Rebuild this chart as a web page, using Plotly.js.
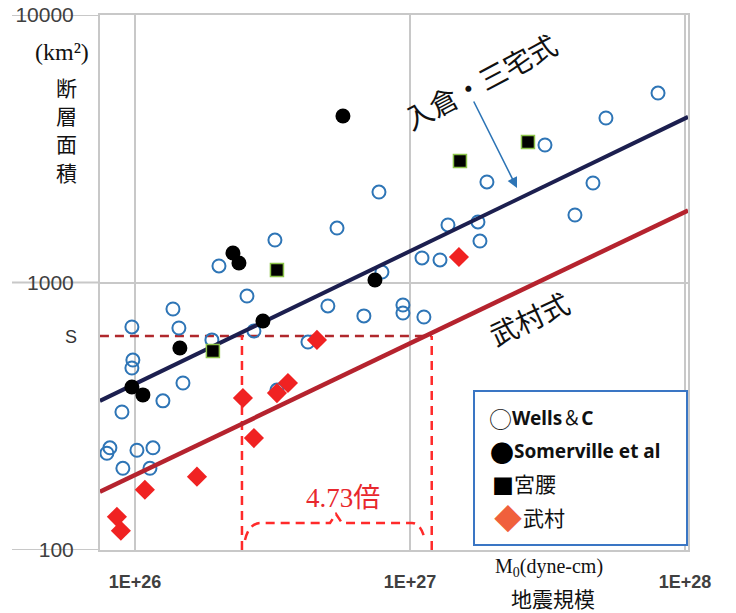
<!DOCTYPE html>
<html>
<head>
<meta charset="utf-8">
<script src="https://cdn.plot.ly/plotly-3.0.1.min.js"></script>
<style>html,body{margin:0;padding:0;background:#fff;}#chart{width:736px;height:613px;}</style>
</head>
<body>
<div id="chart"></div>
<script>
// ---- data (M0 in dyne-cm, S in km^2) ----
const wellsM0 = [7.91e25, 8.11e25, 8.97e25, 9.04e25, 9.75e25, 9.83e25, 9.75e25, 1.017e26, 1.134e26, 1.163e26,
  1.264e26, 1.375e26, 1.445e26, 1.495e26, 1.905e26, 2.021e26, 2.555e26, 2.708e26, 3.229e26, 3.284e26,
  4.257e26, 5.03e26, 5.43e26, 6.80e26, 7.715e26, 7.91e26, 9.43e26, 9.43e26, 1.106e27, 1.286e27,
  1.124e27, 1.375e27, 1.767e27, 1.797e27, 1.905e27, 3.097e27, 3.981e27, 4.629e27, 5.16e27, 7.98e27];
const wellsS = [230, 241, 328, 202, 682, 513, 479, 236, 202, 241,
  361, 796, 676, 421, 610, 1153, 890, 659, 1441, 396,
  599, 817, 1598, 750, 2179, 1094, 824, 769, 1235, 1214,
  743, 1641, 1684, 1429, 2376, 3266, 1788, 2355, 4121, 5109];

const somervilleM0 = [5.706e26, 2.272e26, 2.389e26, 7.46e26, 2.92e26, 1.457e26, 9.75e25, 1.069e26];
const somervilleS = [4193, 1289, 1183, 1022, 718, 569, 407, 380];

const miyakoshiM0 = [1.921e26, 3.284e26, 1.52e27, 2.686e27];
const miyakoshiS = [555, 1113, 2846, 3352];

const takemuraM0 = [1.507e27, 4.59e26, 3.601e26, 3.284e26, 2.47e26, 2.708e26, 1.681e26, 1.087e26, 8.60e25, 8.89e25];
const takemuraS = [1245, 610, 421, 386, 370, 262, 188, 168, 133, 118];

// fitted relations (end points)
const lineM0 = [7.46e25, 1.026e28];
const irikuraS = [361, 4159];
const takemuraLineS = [165, 1860];

// guide: area S and the two moments giving S
const sValue = 631;
const guideM0 = [2.45e26, 1.2e27];
const ratioLabel = '4.73倍';

const xTickVals = [1e26, 1e27, 1e28];
const xTickText = ['1E+26', '1E+27', '1E+28'];
const yTickVals = [100, 1000, 10000];
const yTickText = ['100', '1000', '10000'];
const yTitleChars = ['断', '層', '面', '積'];

const legendRows = [
  {sym: '○', symColor: '#222', label: '<b>Wells</b>＆<b>C</b>'},
  {sym: '●', symColor: '#000', label: '<b>Somerville et al</b>'},
  {sym: '■', symColor: '#000', label: '<span style="font-size:21px">宮腰</span>'},
  {sym: '◆', symColor: '#f0603c', label: '<span style="font-size:21px">武村</span>'}
];

// ---- traces ----
const guideRed = '#ff2a2a';
const traces = [
  {x: [lineM0[0], guideM0[1]], y: [sValue, sValue], mode: 'lines',
   line: {color: '#b0282c', width: 2.5, dash: '9px,6px'}, hoverinfo: 'skip'},
  {x: [guideM0[0], guideM0[0]], y: [yTickVals[0], sValue], mode: 'lines',
   line: {color: guideRed, width: 2.5, dash: '9px,6px'}, hoverinfo: 'skip'},
  {x: [guideM0[1], guideM0[1]], y: [yTickVals[0], sValue], mode: 'lines',
   line: {color: guideRed, width: 2.5, dash: '9px,6px'}, hoverinfo: 'skip'},
  {name: 'Wells & C', x: wellsM0, y: wellsS, mode: 'markers',
   marker: {symbol: 'circle-open', size: 13, color: '#2e75b6', line: {width: 2, color: '#2e75b6'}}},
  {name: '入倉・三宅式', x: lineM0, y: irikuraS, mode: 'lines+markers', cliponaxis: false,
   line: {color: '#1c1f4f', width: 4}, marker: {symbol: 'square', size: 5, color: '#b04a3a'}},
  {name: '武村式', x: lineM0, y: takemuraLineS, mode: 'lines+markers', cliponaxis: false,
   line: {color: '#b5232e', width: 4.5}, marker: {symbol: 'square', size: 5, color: '#5b9bd5'}},
  {name: 'Somerville et al', x: somervilleM0, y: somervilleS, mode: 'markers',
   marker: {symbol: 'circle', size: 15, color: '#000'}},
  {name: '宮腰', x: miyakoshiM0, y: miyakoshiS, mode: 'markers',
   marker: {symbol: 'square', size: 13, color: '#000', line: {width: 1.5, color: '#8cc34a'}}},
  {name: '武村', x: takemuraM0, y: takemuraS, mode: 'markers',
   marker: {symbol: 'diamond', size: 15.5, color: '#f02222', line: {width: 0}}}
];

// ---- layout helpers ----
const L = 100, T = 15, W = 588, H = 535;
const px = v => (v - L) / W;
const py = v => (T + H - v) / H;

const cjk = 'Noto Sans CJK JP';
const serif = 'Liberation Serif, Noto Sans CJK JP';

const annotations = [
  {text: '(km²)', x: px(62), y: py(52), font: {family: serif, size: 24, color: '#111'}},
  {text: 'S', x: px(71), y: py(337), font: {family: 'Liberation Sans', size: 18, color: '#333'}},
  {text: 'M<sub>0</sub>(dyne-cm)', x: px(549), y: py(567), font: {family: serif, size: 20, color: '#111'}},
  {text: '地震規模', x: px(553), y: py(598), font: {family: cjk, size: 21, color: '#111'}},
  {text: '入倉・三宅式', x: px(480), y: py(81), textangle: -28, font: {family: cjk, size: 28, color: '#111'}},
  {text: '武村式', x: px(529), y: py(318), textangle: -25, font: {family: cjk, size: 28, color: '#111'}},
  {text: ratioLabel, x: px(343), y: py(498), font: {family: serif, size: 27, color: '#e8282e'}},
  {text: '', x: px(517), y: py(188), ax: -44, ay: -88, showarrow: true, arrowhead: 2, arrowsize: 1.3,
   arrowwidth: 1.6, arrowcolor: '#2e75b6'}
].map(a => Object.assign({xref: 'paper', yref: 'paper', xanchor: 'center', yanchor: 'middle', showarrow: false}, a));

const titleY = [87, 115, 143, 172];
yTitleChars.forEach((c, i) => annotations.push({xref: 'paper', yref: 'paper', x: px(66), y: py(titleY[i]),
  xanchor: 'center', yanchor: 'middle', showarrow: false, text: c, borderpad: 0,
  font: {family: cjk, size: 21, color: '#111'}}));

const rowY = [418, 451, 484, 518];
const symX = [500, 502, 503, 508];
const symSize = [23, 24, 22, 28];
const textX = [511, 513, 513, 522];
legendRows.forEach((r, i) => {
  annotations.push({xref: 'paper', yref: 'paper', x: px(symX[i]), y: py(rowY[i]),
    xanchor: 'center', yanchor: 'middle', showarrow: false, text: r.sym, borderpad: 0,
    font: {family: cjk, size: symSize[i], color: r.symColor}});
  annotations.push({xref: 'paper', yref: 'paper', x: px(textX[i]), y: py(rowY[i]),
    xanchor: 'left', yanchor: 'middle', showarrow: false, text: r.label, borderpad: 0,
    font: {family: 'Noto Sans, ' + cjk, size: 19, color: '#111'}});
});

const gridColor = '#c8c8c8';
const shapes = yTickVals.map(v => ({type: 'line', xref: 'paper', yref: 'y', x0: px(12), x1: 0, y0: v, y1: v,
  line: {color: gridColor, width: 2}, layer: 'below'}));
// brace under the ratio label
shapes.push({type: 'path', xref: 'paper', yref: 'paper', layer: 'above',
  path: `M ${px(245)} ${py(540)} Q ${px(249)} ${py(523)} ${px(261)} ${py(523)} L ${px(330)} ${py(523)} L ${px(336)} ${py(514)} L ${px(342)} ${py(523)} L ${px(412)} ${py(523)} Q ${px(421)} ${py(523)} ${px(425)} ${py(540)}`,
  line: {color: guideRed, width: 2.5, dash: '9px,6px'}});
// legend box
shapes.push({type: 'rect', xref: 'paper', yref: 'paper', x0: px(474), x1: px(687), y0: py(545), y1: py(391),
  line: {color: '#3a76c4', width: 2}, fillcolor: '#fff', layer: 'above'});

const layout = {
  width: 736, height: 613,
  margin: {l: L, r: 736 - L - W, t: T, b: 613 - T - H},
  paper_bgcolor: '#fff', plot_bgcolor: '#fff',
  showlegend: false,
  xaxis: {type: 'log', range: [25.873, 28.011], tickvals: xTickVals, ticktext: xTickText,
    showgrid: true, gridcolor: gridColor, gridwidth: 2, showline: true, linecolor: gridColor, linewidth: 2,
    mirror: true, ticks: '', zeroline: false, ticklabelstandoff: 14,
    tickfont: {family: 'Liberation Sans', size: 18, color: '#404040', weight: 'bold'}},
  yaxis: {type: 'log', range: [2, 4], tickvals: yTickVals, ticktext: yTickText,
    showgrid: true, gridcolor: gridColor, gridwidth: 2, showline: true, linecolor: gridColor, linewidth: 2,
    mirror: true, ticks: '', zeroline: false, ticklabelstandoff: 20,
    tickfont: {family: 'Liberation Sans', size: 21, color: '#404040'}},
  annotations: annotations,
  shapes: shapes
};

Plotly.newPlot('chart', traces, layout, {displayModeBar: false, staticPlot: true});
</script>
</body>
</html>
